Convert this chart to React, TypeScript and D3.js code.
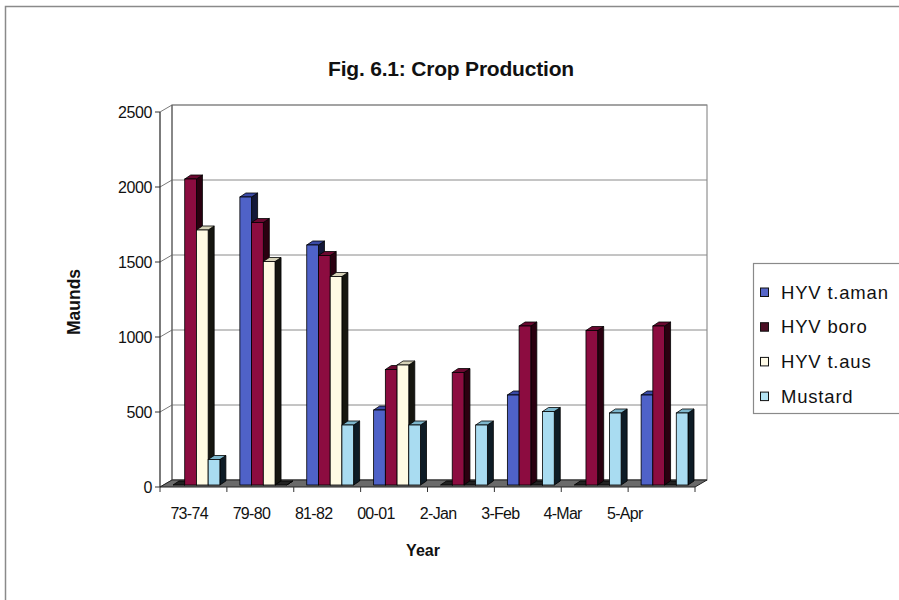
import React from "react";
import * as d3 from "d3";

const categories = ["73-74", "79-80", "81-82", "00-01", "2-Jan", "3-Feb", "4-Mar", "5-Apr"];
const seriesNames = ["HYV t.aman", "HYV boro", "HYV t.aus", "Mustard"];
const tAman = [0, 1920, 1600, 500, 0, 600, 0, 600];
const boro = [2040, 1750, 1530, 770, 750, 1060, 1030, 1060];
const tAus = [1700, 1490, 1390, 800, 0, 0, 0, 0];
const mustard = [170, 0, 400, 400, 400, 490, 480, 480];
const yTicks = [0, 500, 1000, 1500, 2000, 2500];

const seriesValues = [tAman, boro, tAus, mustard];
const frontColors = ["#4f62c8", "#8c0c40", "#fffbe4", "#a9dcf1"];
const topColors = ["#3a4aa6", "#6a0830", "#d6d2b8", "#7db6cc"];
const sideColors = ["#141838", "#2a0010", "#161610", "#0e1c26"];
const legendColors = ["#5666c8", "#4a0e24", "#fffbe8", "#b4e4f4"];

const W = 899;
const H = 600;
const FONT = "'Liberation Sans', Arial, sans-serif";

// 3D geometry: floor depth offset and bar depth offsets
const DX = 12;
const DY = -7;
const BAR_OFF_X = 3;
const BAR_OFF_Y = -2;
const BAR_DX = 6;
const BAR_DY = -4;

export default function App() {
  const x = d3.scaleBand<string>().domain(categories).range([160, 695]);
  const step = x.bandwidth();
  const xs = d3.scaleBand<string>().domain(seriesNames).range([10, step - 10]);
  const bw = xs.bandwidth();
  const y = d3.scaleLinear().domain([0, 2500]).range([487, 112]);
  const xLabel = d3.scaleBand<string>().domain(categories).range([158, 656]);

  const x0 = x.range()[0];
  const x1 = x.range()[1];
  const y0 = y(0);
  const yTop = y(2500);

  const pts = (p: [number, number][]) => p.map((q) => q.join(",")).join(" ");

  const bars: React.ReactNode[] = [];
  categories.forEach((c, i) => {
    seriesNames.forEach((s, j) => {
      const v = seriesValues[j][i];
      const left = (x(c) as number) + (xs(s) as number) + BAR_OFF_X;
      const right = left + bw;
      const bottom = y0 + BAR_OFF_Y;
      const top = y(v) + BAR_OFF_Y;
      const side: [number, number][] = [
        [right, bottom],
        [right + BAR_DX, bottom + BAR_DY],
        [right + BAR_DX, top + BAR_DY],
        [right, top],
      ];
      const cap: [number, number][] = [
        [left, top],
        [left + BAR_DX, top + BAR_DY],
        [right + BAR_DX, top + BAR_DY],
        [right, top],
      ];
      bars.push(
        <g key={`${c}-${s}`}>
          <polygon points={pts(side)} fill={sideColors[j]} stroke="#000" strokeWidth={0.8} />
          <polygon points={pts(cap)} fill={v > 0 ? topColors[j] : "#222"} stroke="#000" strokeWidth={0.8} />
          {v > 0 && (
            <rect x={left} y={top} width={bw} height={bottom - top} fill={frontColors[j]} stroke="#000" strokeWidth={0.8} />
          )}
        </g>
      );
    });
  });

  return (
    <svg width={W} height={H} style={{ position: "absolute", left: 0, top: 0, background: "#fff" }}>
      {/* chart border */}
      <rect x={5.5} y={6.5} width={W + 10} height={H + 10} fill="#fff" stroke="#8a8a8a" strokeWidth={1.5} />

      {/* title */}
      <text x={451} y={76} textAnchor="middle" fontFamily={FONT} fontWeight="bold" fontSize={21} letterSpacing={-0.2} fill="#111">
        Fig. 6.1: Crop Production
      </text>

      {/* back wall */}
      <rect x={x0 + DX} y={yTop + DY} width={x1 - x0} height={y0 - yTop} fill="#fff" stroke="#7a7a7a" strokeWidth={1} />
      {yTicks.map((t) => (
        <g key={`g${t}`}>
          <line x1={x0 + DX} x2={x1 + DX} y1={y(t) + DY} y2={y(t) + DY} stroke="#8a8a8a" strokeWidth={1} />
          <line x1={x0} x2={x0 + DX} y1={y(t)} y2={y(t) + DY} stroke="#7a7a7a" strokeWidth={1} />
          <line x1={x0 - 5} x2={x0} y1={y(t)} y2={y(t)} stroke="#333" strokeWidth={1} />
          <text x={152} y={y(t)} dy="0.36em" textAnchor="end" fontFamily={FONT} fontSize={16} letterSpacing={-0.4} fill="#111">
            {t}
          </text>
        </g>
      ))}
      {/* left side wall edge */}
      <line x1={x0 + DX} x2={x0 + DX} y1={yTop + DY} y2={y0 + DY} stroke="#555" strokeWidth={1} />

      {/* floor */}
      <polygon
        points={pts([
          [x0, y0],
          [x1, y0],
          [x1 + DX, y0 + DY],
          [x0 + DX, y0 + DY],
        ])}
        fill="#6a6a6a"
        stroke="#222"
        strokeWidth={1}
      />

      {bars}

      {/* front value axis */}
      <line x1={x0} x2={x0} y1={yTop} y2={y0} stroke="#222" strokeWidth={1.2} />
      {/* category ticks */}
      {d3.range(categories.length + 1).map((k) => (
        <line key={`t${k}`} x1={x0 + k * step} x2={x0 + k * step} y1={y0} y2={y0 + 5} stroke="#333" strokeWidth={1} />
      ))}
      {categories.map((c) => (
        <text
          key={`l${c}`}
          x={(xLabel(c) as number) + xLabel.bandwidth() / 2}
          y={519}
          textAnchor="middle"
          fontFamily={FONT}
          fontSize={16}
          letterSpacing={-0.7}
          fill="#111"
        >
          {c}
        </text>
      ))}

      {/* axis titles */}
      <text x={423} y={556} textAnchor="middle" fontFamily={FONT} fontWeight="bold" fontSize={16} fill="#111">
        Year
      </text>
      <text
        transform="translate(80,302) rotate(-90)"
        textAnchor="middle"
        fontFamily={FONT}
        fontWeight="bold"
        fontSize={17.5}
        fill="#111"
      >
        Maunds
      </text>

      {/* legend */}
      <rect x={753.5} y={263.5} width={170} height={150} fill="#fff" stroke="#8a8a8a" strokeWidth={1.2} />
      {seriesNames.map((s, j) => {
        const cy = 292 + j * 34.7;
        return (
          <g key={`lg${s}`}>
            <rect x={760.5} y={cy - 4} width={8} height={8.5} fill={legendColors[j]} stroke="#111" strokeWidth={1} />
            <text x={781} y={cy} dy="0.36em" fontFamily={FONT} fontSize={18.5} letterSpacing={0.8} fill="#111">
              {s}
            </text>
          </g>
        );
      })}
    </svg>
  );
}
